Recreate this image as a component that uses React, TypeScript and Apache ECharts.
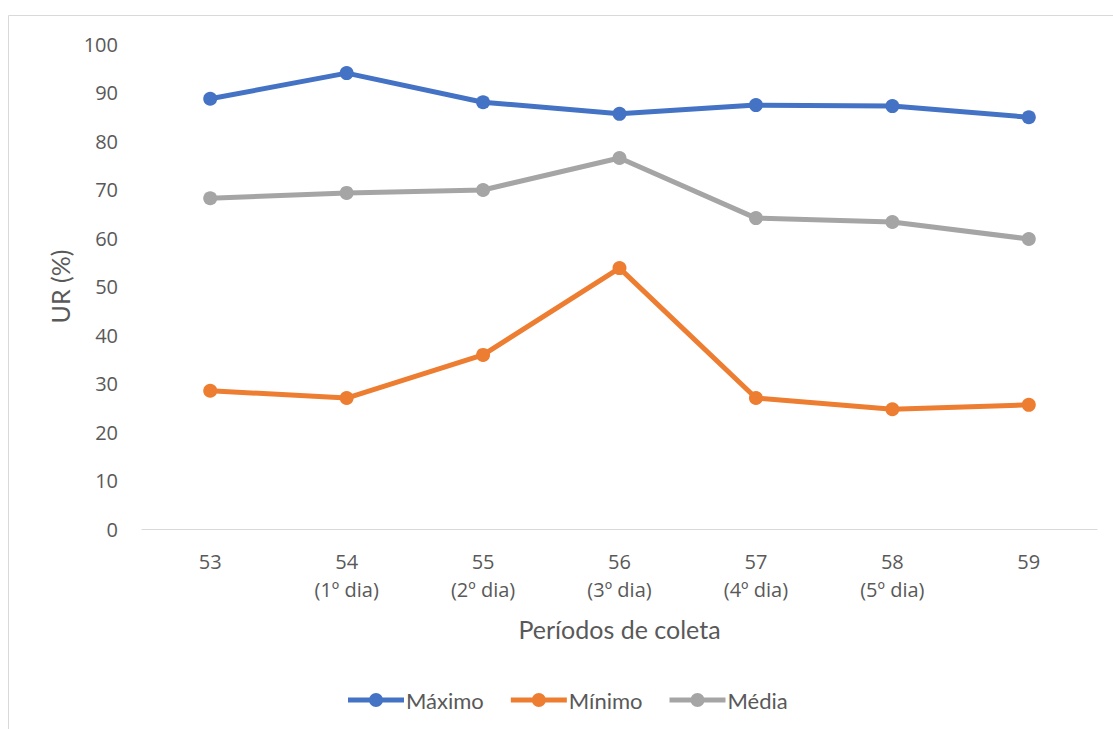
import React, { useEffect, useRef } from "react";
import * as echarts from "echarts";

const categories = ["53", "54\n(1º dia)", "55\n(2º dia)", "56\n(3º dia)", "57\n(4º dia)", "58\n(5º dia)", "59"];
const maximo = [88.7, 94.0, 88.0, 85.6, 87.4, 87.2, 84.9];
const minimo = [28.5, 27.0, 35.9, 53.8, 27.0, 24.7, 25.6];
const media = [68.2, 69.3, 69.9, 76.5, 64.1, 63.3, 59.8];

const FONT = "Lato, 'Open Sans', sans-serif";
const TICK_FONT = "'Open Sans', Lato, sans-serif";
const LEGEND_ICON = "path://M0,4.5H56V9.5H0Z M21,7A7,7 0 1 1 35,7A7,7 0 1 1 21,7Z";

export default function App() {
  const ref = useRef<HTMLDivElement>(null);
  useEffect(() => {
    if (!ref.current) return;
    const chart = echarts.init(ref.current, null, { renderer: "svg" });
    const mk = (name: string, data: number[], color: string) => ({
      name,
      type: "line",
      data,
      symbol: "circle",
      symbolSize: 14,
      lineStyle: { width: 5, color },
      itemStyle: { color },
    });
    chart.setOption({
      animation: false,
      backgroundColor: "#ffffff",
      textStyle: { fontFamily: FONT },
      graphic: [
        {
          type: "rect",
          shape: { x: 8.5, y: 15.5, width: 1200, height: 800 },
          style: { fill: "none", stroke: "#d9d9d9", lineWidth: 1 },
          silent: true,
        },
      ],
      grid: { left: 142, right: 16, top: 44, bottom: 200 },
      legend: {
        top: 684,
        left: 343,
        itemWidth: 56,
        itemHeight: 14,
        itemGap: 27,
        icon: LEGEND_ICON,
        textStyle: { fontSize: 22, color: "#595959", fontFamily: FONT, padding: [0, 0, 0, -3] },
        data: ["Máximo", "Mínimo", "Média"],
      },
      xAxis: {
        type: "category",
        data: categories,
        boundaryGap: true,
        name: "Períodos de coleta",
        nameLocation: "middle",
        nameGap: 87,
        nameTextStyle: { fontSize: 25, color: "#595959", fontFamily: FONT },
        axisLine: { lineStyle: { color: "#d9d9d9", width: 1 } },
        axisTick: { show: false },
        axisLabel: { fontSize: 20, color: "#595959", lineHeight: 28, margin: 18, fontFamily: TICK_FONT },
      },
      yAxis: {
        type: "value",
        min: 0,
        max: 100,
        interval: 10,
        name: "UR (%)",
        nameLocation: "middle",
        nameGap: 70,
        nameRotate: 90,
        nameTextStyle: { fontSize: 25, color: "#595959", fontFamily: FONT },
        axisLine: { show: false },
        axisTick: { show: false },
        splitLine: { show: false },
        axisLabel: { fontSize: 20, color: "#595959", margin: 24, fontFamily: TICK_FONT },
      },
      series: [
        mk("Máximo", maximo, "#4472c4"),
        mk("Mínimo", minimo, "#ed7d31"),
        mk("Média", media, "#a5a5a5"),
      ],
    });
    return () => chart.dispose();
  }, []);
  return <div ref={ref} style={{ position: "fixed", left: 0, top: 0, width: 1113, height: 729 }} />;
}
